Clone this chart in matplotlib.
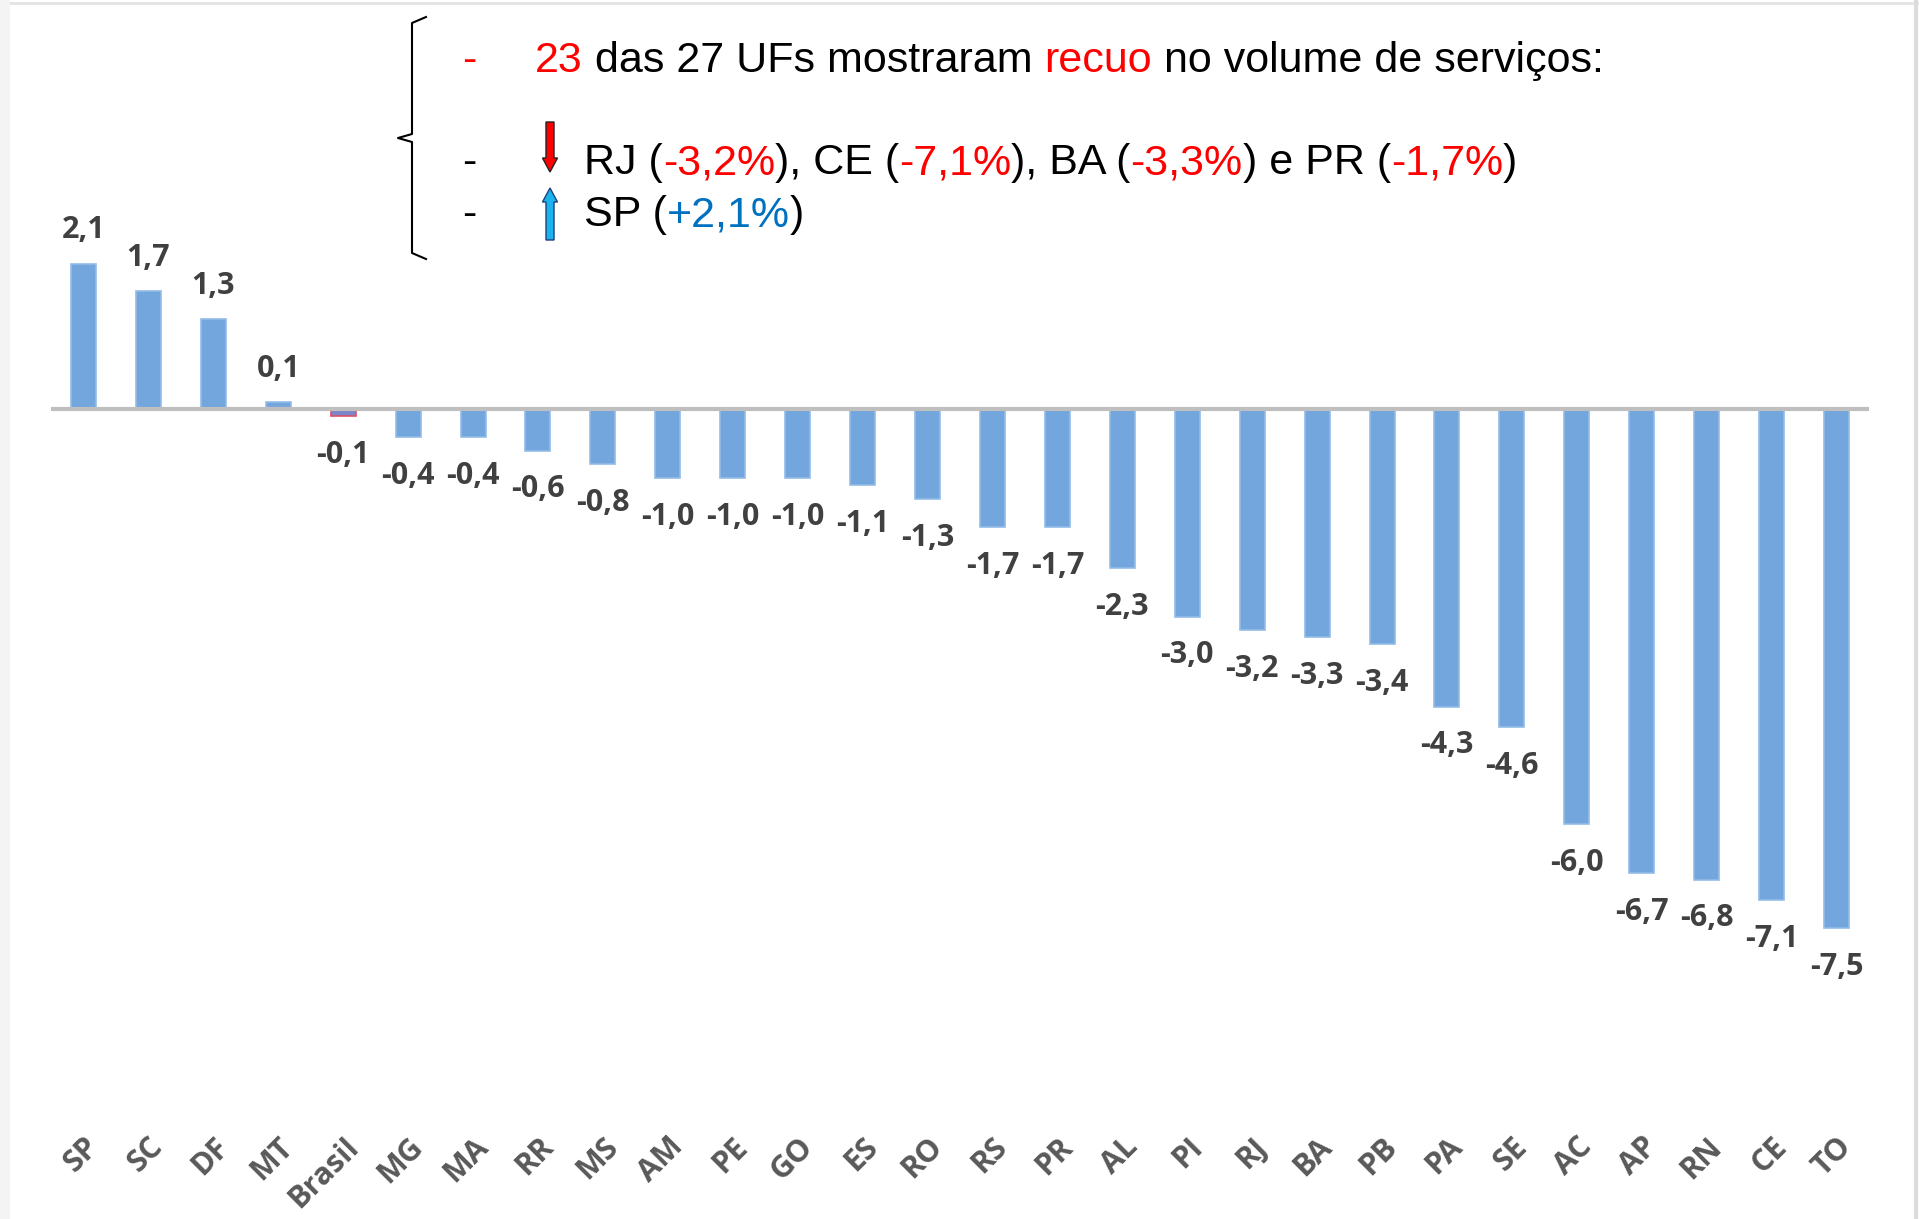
import matplotlib
matplotlib.use("Agg")
import matplotlib.pyplot as plt
from matplotlib.patches import FancyArrow
from matplotlib.lines import Line2D

# variação do volume de serviços por UF (%)
ufs = ["SP", "SC", "DF", "MT", "Brasil", "MG", "MA", "RR", "MS", "AM", "PE", "GO",
       "ES", "RO", "RS", "PR", "AL", "PI", "RJ", "BA", "PB", "PA", "SE", "AC",
       "AP", "RN", "CE", "TO"]
variacao = [2.1, 1.7, 1.3, 0.1, -0.1, -0.4, -0.4, -0.6, -0.8, -1.0, -1.0, -1.0,
            -1.1, -1.3, -1.7, -1.7, -2.3, -3.0, -3.2, -3.3, -3.4, -4.3, -4.6, -6.0,
            -6.7, -6.8, -7.1, -7.5]

W, H = 1919, 1219
fig = plt.figure(figsize=(W / 100, H / 100), dpi=100)

# eixo do gráfico: zero em ~409 px, ~69 px por ponto percentual
y0_px, px_unit = 409, 69.2
ax_bottom_px = 1115
ax = fig.add_axes([51 / W, 1 - ax_bottom_px / H, (1869 - 51) / W, ax_bottom_px / H])
ax.set_ylim(-(ax_bottom_px - y0_px) / px_unit, y0_px / px_unit)
ax.set_xlim(-0.5, len(ufs) - 0.5)

x = list(range(len(ufs)))
cores = ["#72a6dd"] * len(ufs)
bordas = ["#93bce8"] * len(ufs)
i_br = ufs.index("Brasil")
cores[i_br] = "#7b86c8"
bordas[i_br] = "#e0506a"
ax.bar(x, variacao, width=0.385, color=cores, edgecolor=bordas, linewidth=1.2, zorder=2)
ax.axhline(0, color="#bfbfbf", lw=3, zorder=3)

for xi, v in zip(x, variacao):
    rot = f"{v:.1f}".replace(".", ",")
    off = 24 if v > 0 else -28
    ax.annotate(rot, (xi, v), xytext=(0, off), textcoords="offset points",
                ha="center", va="center", fontsize=22, fontweight="bold",
                color="#404040", family="Open Sans")

ax.set_xticks(x)
ax.set_xticklabels(ufs, rotation=45, ha="right", va="top", rotation_mode="anchor",
                   fontsize=22, fontweight="bold", color="#595959", family="Open Sans")
ax.tick_params(axis="x", length=0, pad=12)
ax.set_yticks([])
for s in ax.spines.values():
    s.set_visible(False)

# camada em pixels para o texto explicativo
ov = fig.add_axes([0, 0, 1, 1], facecolor="none")
ov.set_xlim(0, W)
ov.set_ylim(H, 0)
ov.axis("off")

# moldura clara do slide
ov.add_line(Line2D([0, W], [3, 3], color="#e4e4e4", lw=2))
ov.add_line(Line2D([1916, 1916], [0, H], color="#dcdcdc", lw=3))
ov.add_line(Line2D([4, 4], [0, H], color="#f4f4f4", lw=8))

# chave
bx, bt, bb, bm = 412, 17, 259, 138
ov.plot([bx + 14, bx, bx, bx - 14, bx, bx, bx + 14],
        [bt, bt + 6, bm - 4, bm, bm + 4, bb - 6, bb], color="black", lw=1.5)

fs = 31
fam = "Liberation Sans"
red, blue = "#ff0000", "#0070c0"


def linha(x0, y, partes):
    t = ov.text(x0, y, partes[0][0], color=partes[0][1], fontsize=fs, family=fam,
                va="center", ha="left")
    for txt, cor in partes[1:]:
        t = ov.annotate(txt, xy=(1, 0), xycoords=t, va="bottom", ha="left",
                        color=cor, fontsize=fs, family=fam)


ov.text(469, 61, "-", color=red, fontsize=fs, family=fam, va="center", ha="center")
ov.text(469, 163, "-", color="black", fontsize=fs, family=fam, va="center", ha="center")
ov.text(469, 215, "-", color="black", fontsize=fs, family=fam, va="center", ha="center")

linha(535, 61, [("23", red), (" das 27 UFs mostraram ", "black"), ("recuo", red),
                (" no volume de serviços:", "black")])
linha(584, 163, [("RJ (", "black"), ("-3,2%", red), ("), CE (", "black"), ("-7,1%", red),
                 ("), BA (", "black"), ("-3,3%", red), (") e PR (", "black"),
                 ("-1,7%", red), (")", "black")])
linha(584, 215, [("SP (", "black"), ("+2,1%", blue), (")", "black")])

ov.add_patch(FancyArrow(550, 122, 0, 50, width=8, head_width=15, head_length=14,
                        length_includes_head=True, fc="#ff0000", ec="#222222", lw=1))
ov.add_patch(FancyArrow(550, 240, 0, -52, width=8, head_width=15, head_length=14,
                        length_includes_head=True, fc="#19b4ee", ec="#1f3f7f", lw=1))

fig.savefig("out.png", dpi=100, facecolor="white")
